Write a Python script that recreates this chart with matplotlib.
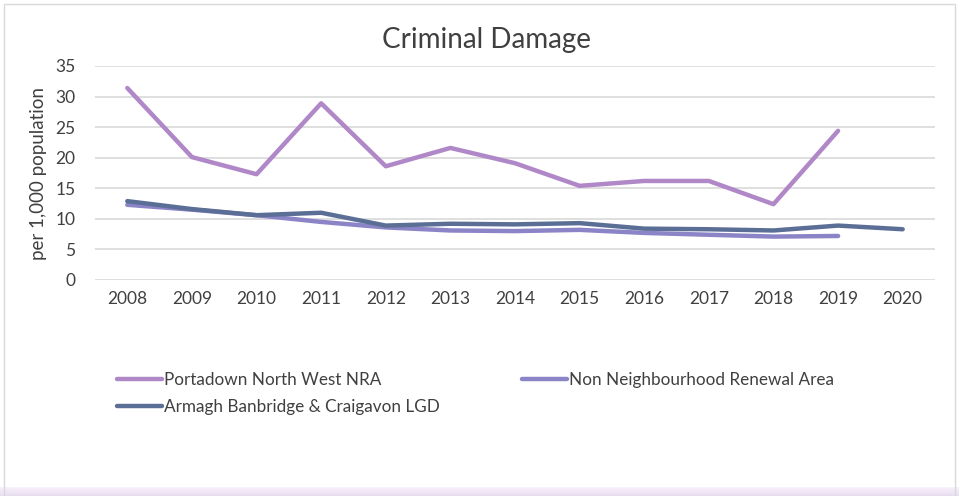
import matplotlib.pyplot as plt
from matplotlib.patches import Rectangle
import numpy as np

years = [2008, 2009, 2010, 2011, 2012, 2013, 2014, 2015, 2016, 2017, 2018, 2019, 2020]
portadown = [31.4, 20.1, 17.3, 28.9, 18.6, 21.6, 19.1, 15.4, 16.2, 16.2, 12.4, 24.4]
non_nra = [12.3, 11.5, 10.6, 9.5, 8.6, 8.1, 8.0, 8.2, 7.7, 7.4, 7.1, 7.2]
lgd = [12.9, 11.6, 10.6, 11.0, 8.9, 9.2, 9.1, 9.3, 8.4, 8.3, 8.1, 8.9, 8.3]

plt.rcParams['font.family'] = ['Lato', 'DejaVu Sans']

fig = plt.figure(figsize=(9.59, 4.96), dpi=100)
ax = fig.add_axes([95 / 959, (496 - 280) / 496, (935 - 95) / 959, (280 - 66) / 496])

x = np.arange(len(years))
l1, = ax.plot(x[:len(portadown)], portadown, color='#B088C8', lw=3.2, label='Portadown North West NRA', solid_capstyle='round')
l2, = ax.plot(x[:len(non_nra)], non_nra, color='#8B84C6', lw=3.2, label='Non Neighbourhood Renewal Area', solid_capstyle='round')
l3, = ax.plot(x, lgd, color='#5B6F96', lw=3.2, label='Armagh Banbridge & Craigavon LGD', solid_capstyle='round')

ax.set_xlim(-0.5, len(years) - 0.5)
ax.set_ylim(0, 35)
ax.set_yticks(range(0, 36, 5))
ax.set_xticks(x)
ax.set_xticklabels([str(y) for y in years])
ax.grid(axis='y', color='#D9D9D9', lw=1.2)
ax.set_axisbelow(True)
for s in ax.spines.values():
    s.set_visible(False)
ax.tick_params(length=0, labelsize=12.5, colors='#404040', pad=8)
ax.tick_params(axis='y', pad=14)
ax.set_ylabel('per 1,000 population', fontsize=13.5, color='#404040', labelpad=6)
fig.text(486 / 959, 1 - 40 / 496, 'Criminal Damage', ha='center', va='center', fontsize=20, color='#404040')

# legend is filled column by column, so order it to read row by row
fig.legend([l1, l3, l2], [l1.get_label(), l3.get_label(), l2.get_label()],
           loc='upper left', bbox_to_anchor=(102 / 959, 1 - 357 / 496), ncol=2, frameon=False,
           fontsize=12.3, handlelength=2.6, handletextpad=0.15, columnspacing=4.8,
           labelspacing=0.62, labelcolor='#404040')

# frame and lavender strip at bottom
fig.patches.append(Rectangle((4 / 959, 0), 1 - 8 / 959, 1 - 4 / 496, transform=fig.transFigure,
                             fill=False, edgecolor='#D9D9D9', lw=1))
grad = np.linspace(0, 1, 20).reshape(-1, 1)
gax = fig.add_axes([0, 0, 1, 9 / 496])
gax.imshow(grad, aspect='auto', cmap=plt.matplotlib.colors.LinearSegmentedColormap.from_list('g', ['#F7F2FB', '#E9DDF2']))
gax.axis('off')

fig.savefig('out.png', dpi=100)
